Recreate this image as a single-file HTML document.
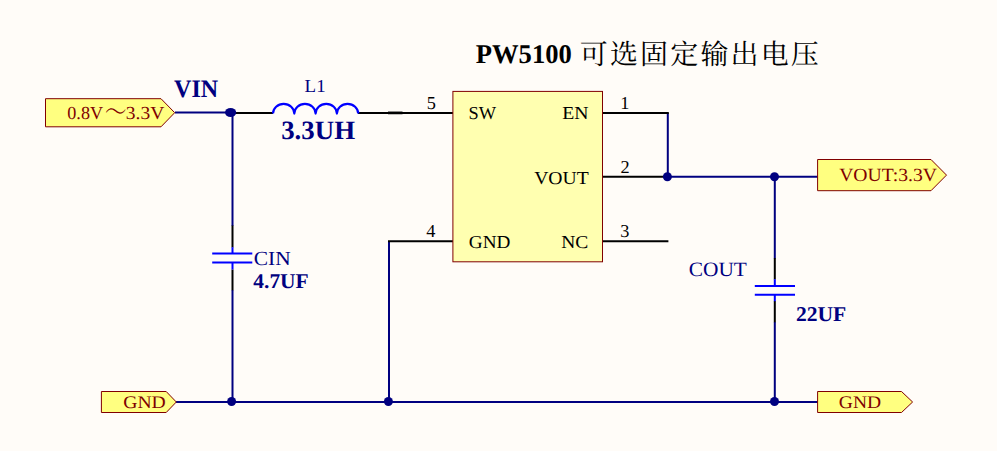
<!DOCTYPE html>
<html><head><meta charset="utf-8">
<style>
html,body{margin:0;padding:0;background:#fffcf8;}
body{width:997px;height:451px;overflow:hidden;position:relative;font-family:"Liberation Serif","Noto Serif CJK SC",serif;}
svg{position:absolute;left:0;top:0;}
text{font-family:"Liberation Serif","Noto Serif CJK SC",serif;font-size:18px;text-rendering:geometricPrecision;}
.w{stroke:#000080;stroke-width:2;fill:none;}
.p{stroke:#000;stroke-width:2;fill:none;}
.c{stroke:#0000ff;stroke-width:2;fill:none;}
.j{fill:#000080;}
.port{fill:#ffff80;stroke:#800000;stroke-width:1;}
.pt{fill:#800000;font-size:18.400px;}
.pin{fill:#000;font-size:18.200px;}
.lbl{fill:#000080;}
.b{font-weight:bold;fill:#000080;}
</style></head><body>
<svg width="997" height="451" viewBox="0 0 997 451">
<rect width="997" height="451" fill="#fffcf8"/>
<!-- title -->
<text y="63" fill="#000" style="font-size:27px"><tspan x="475.800" font-weight="bold" textLength="96" lengthAdjust="spacingAndGlyphs">PW5100</tspan> <tspan x="579.800" y="63.500" style="font-size:28px" letter-spacing="2.150">可选固定输出电压</tspan></text>

<!-- wires -->
<path class="w" d="M175 112.600H232M232.500 112.600V226M232.500 290V402M176 402H818M667.800 112.900V177M667 176.800H818M774.800 177V258.500M774.800 322V402M389 241V402"/>
<!-- pins black -->
<path class="p" d="M232 112.900H273M358 112.900H453M388 241.200H453M602 112.900H668.800M602 176.800H667M602 241.200H668.400M232.500 225.600V247.500M232.500 269.500V290.200M774.800 258V279.500M774.800 301V322.200"/>
<path d="M388 112.800H402.500" stroke="#000" stroke-width="3.400" opacity="0.500"/>
<!-- inductor -->
<path class="c" style="stroke-width:2.200;stroke-linejoin:round" d="M273 113.600a10.650 9.700 0 0 1 21.300 0a10.650 9.700 0 0 1 21.300 0a10.650 9.700 0 0 1 21.300 0a10.650 9.700 0 0 1 21.300 0"/>
<!-- caps -->
<path class="c" d="M212.200 253.500H252.300M212.200 262.400H252.300M232.500 247.300V253.500M232.500 262.400V269.600M754.800 286.100H795M754.800 294.800H795M774.800 279.300V286.100M774.800 294.800V301.200"/>
<!-- junctions -->
<ellipse class="j" cx="230.600" cy="112.500" rx="5.600" ry="4.600"/>
<circle class="j" cx="667.400" cy="176.800" r="4.500"/>
<circle class="j" cx="774.500" cy="176.800" r="4.500"/>
<circle class="j" cx="231.600" cy="401.500" r="4.500"/>
<circle class="j" cx="388.400" cy="401.500" r="4.500"/>
<circle class="j" cx="774.500" cy="401.500" r="4.500"/>
<!-- IC -->
<rect x="452.900" y="91.400" width="149.600" height="170.400" fill="#ffffb0" stroke="#800000" stroke-width="1"/>
<text class="pin" x="468.500" y="118.700" textLength="27.500" lengthAdjust="spacingAndGlyphs">SW</text>
<text class="pin" x="562.300" y="118.700" textLength="26.300" lengthAdjust="spacingAndGlyphs">EN</text>
<text class="pin" x="534.200" y="184.100" textLength="54.500" lengthAdjust="spacingAndGlyphs">VOUT</text>
<text class="pin" x="468.800" y="247.700" textLength="41.600" lengthAdjust="spacingAndGlyphs">GND</text>
<text class="pin" x="561.200" y="247.900" textLength="27.100" lengthAdjust="spacingAndGlyphs">NC</text>
<text class="pin" x="426.7" y="108.5" style="font-size:18.300px">5</text>
<text class="pin" x="426.3" y="237.1" style="font-size:18.300px">4</text>
<text class="pin" x="620.3" y="109" style="font-size:18.300px">1</text>
<text class="pin" x="620.6" y="173.2" style="font-size:18.300px">2</text>
<text class="pin" x="620.2" y="237.1" style="font-size:18.300px">3</text>
<!-- ports -->
<path class="port" d="M45.500 98.700H161L174.700 112.700L161 126.800H45.500Z"/>
<text class="pt" y="119.100"><tspan x="67.300" textLength="35.800" lengthAdjust="spacingAndGlyphs">0.8V</tspan><tspan x="105.100" y="121.900" style="font-size:29px;font-weight:200" textLength="21.540" lengthAdjust="spacingAndGlyphs">～</tspan><tspan x="125.850" y="119.100" textLength="38.530" lengthAdjust="spacingAndGlyphs">3.3V</tspan></text>
<path class="port" d="M817.600 159.500H931L946.500 175.100L931 190.700H817.600Z"/>
<text class="pt" style="font-size:18.600px" x="839.200" y="181.100" textLength="97.800" lengthAdjust="spacingAndGlyphs">VOUT:3.3V</text>
<path class="port" d="M101.400 391.500H166.200L176.300 402L166.200 412.500H101.400Z"/>
<text class="pt" style="font-size:17.700px" x="123.200" y="407.600" textLength="42.600" lengthAdjust="spacingAndGlyphs">GND</text>
<path class="port" d="M817.600 391.500H901.500L912.600 402L901.500 412.500H817.600Z"/>
<text class="pt" style="font-size:17.700px" x="838.800" y="407.600" textLength="42.400" lengthAdjust="spacingAndGlyphs">GND</text>
<!-- labels -->
<text class="b" x="174.100" y="97.100" style="font-size:25.200px" textLength="44.100" lengthAdjust="spacingAndGlyphs">VIN</text>
<text class="lbl" x="304.600" y="91.700" style="font-size:18.200px" textLength="21" lengthAdjust="spacingAndGlyphs">L1</text>
<text class="b" x="281.200" y="139.400" style="font-size:26.500px" textLength="73.900" lengthAdjust="spacingAndGlyphs">3.3UH</text>
<text class="lbl" x="253.800" y="264.600" style="font-size:20px" textLength="36.900" lengthAdjust="spacingAndGlyphs">CIN</text>
<text class="b" x="253.300" y="287.800" style="font-size:21px" textLength="55.400" lengthAdjust="spacingAndGlyphs">4.7UF</text>
<text class="lbl" x="688.700" y="276.100" style="font-size:20.300px" textLength="58.200" lengthAdjust="spacingAndGlyphs">COUT</text>
<text class="b" x="795.900" y="321.200" style="font-size:21px" textLength="50.400" lengthAdjust="spacingAndGlyphs">22UF</text>
</svg>
</body></html>
